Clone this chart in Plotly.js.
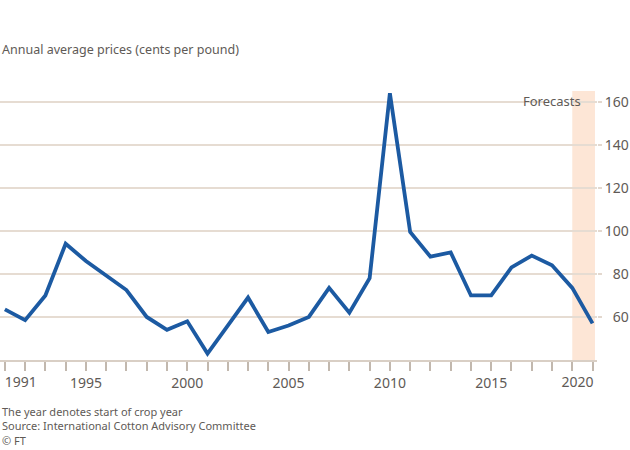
<!DOCTYPE html>
<html>
<head>
<meta charset="utf-8">
<script src="https://cdn.plot.ly/plotly-3.0.1.min.js"></script>
<style>
html,body{margin:0;padding:0;background:#ffffff;}
#chart{width:630px;height:450px;}
</style>
</head>
<body>
<div id="chart"></div>
<script>
// Crop year (start year) and annual average price, cents per pound
const years = [1991,1992,1993,1994,1995,1996,1997,1998,1999,2000,
               2001,2002,2003,2004,2005,2006,2007,2008,2009,2010,
               2011,2012,2013,2014,2015,2016,2017,2018,2019,2020];
const prices = [63.5,58.5,70,94,86,79,72.5,60,54,58,
                43,56,69,53,56,60,73.5,62,78,164,
                99.5,88,90,70,70,83,88.5,84,73.5,57];
const labelYears = [1991,1995,2000,2005,2010,2015,2020];
const yTicks = [60,80,100,120,140,160];
const forecastStart = 2019;
const forecastEnd = 2020;
const titleText = "Annual average prices (cents per pound)";
const notes = ["The year denotes start of crop year",
               "Source: International Cotton Advisory Committee",
               "© FT"];
const forecastLabel = "Forecasts";

const FS = "\u2007";
const firstYear = years[0];
const lastYear = years[years.length - 1];
const xTickText = years.map(function(y){
  if (labelYears.indexOf(y) < 0 || y === firstYear || y === lastYear) return "";
  return String(y);
});
const yTickText = yTicks.map(function(v){
  const s = String(v);
  return (s.length < 3 ? FS : "") + s;
});

const font = "'Noto Sans', 'Open Sans', Lato, sans-serif";
const grey = "#605a56";
const xRange = [1990.76, 2020.22];

const trace = {
  x: years, y: prices, type: "scatter", mode: "lines",
  line: {color: "#1c5aa2", width: 3.8},
  hoverinfo: "x+y"
};
// helper traces only register the overlay axes that carry the end labels
const helperFirst = {x: [firstYear], y: [prices[0]], xaxis: "x2", type: "scatter", mode: "lines",
  line: {width: 0}, hoverinfo: "skip", showlegend: false};
const helperLast = {x: [lastYear], y: [prices[prices.length-1]], xaxis: "x3", type: "scatter", mode: "lines",
  line: {width: 0}, hoverinfo: "skip", showlegend: false};

const endAxis = function(val, shift){
  return {
    overlaying: "x", anchor: "y", side: "bottom", range: xRange,
    tickmode: "array", tickvals: [val], ticktext: [String(val)],
    ticks: "outside", ticklen: 9, tickwidth: 2, tickcolor: "rgba(0,0,0,0)",
    ticklabelshift: shift,
    showline: false, showgrid: false, zeroline: false,
    tickfont: {size: 14, color: grey, family: font},
    fixedrange: true
  };
};

const layout = {
  width: 630, height: 450,
  paper_bgcolor: "#ffffff", plot_bgcolor: "#ffffff",
  margin: {l: 0, r: 33, t: 91, b: 90},
  showlegend: false,
  font: {family: font, color: grey, size: 14},
  xaxis: {
    range: xRange,
    tickmode: "array", tickvals: years, ticktext: xTickText,
    ticks: "outside", ticklen: 9, tickwidth: 2, tickcolor: "#c2b8ae",
    showline: true, linecolor: "#d9cfc5", linewidth: 2,
    showgrid: false, zeroline: false,
    tickfont: {size: 14, color: grey, family: font},
    fixedrange: true
  },
  xaxis2: endAxis(firstYear, 16),
  xaxis3: endAxis(lastYear, -15),
  yaxis: {
    side: "right",
    range: [40, 165],
    tickmode: "array", tickvals: yTicks, ticktext: yTickText,
    ticks: "outside", ticklen: 4, tickwidth: 2, tickcolor: "#e3d8ce",
    showgrid: true, gridcolor: "#e6dcd2", gridwidth: 2,
    showline: false, zeroline: false,
    tickfont: {size: 14, color: grey, family: font},
    fixedrange: true
  },
  shapes: [
    {type: "rect", xref: "x", yref: "paper", x0: forecastStart, x1: forecastEnd + 0.12,
     y0: 0, y1: 1.0, fillcolor: "#fde6d6", line: {width: 0}, layer: "between"},
    {type: "rect", xref: "x", yref: "y", x0: 2017.6, x1: forecastStart,
     y0: 158, y1: 162, fillcolor: "#ffffff", line: {width: 0}, layer: "between"}
  ],
  annotations: [
    {text: titleText, xref: "paper", yref: "paper", x: 0, y: 1, xanchor: "left", yanchor: "bottom",
     yshift: 31, showarrow: false, font: {size: 12.5, color: grey, family: font}, align: "left"},
    {text: forecastLabel, xref: "x", yref: "y", x: 2019.55, y: 160.5, xanchor: "right", yanchor: "middle",
     showarrow: false, font: {size: 13, color: grey, family: font}},
    {text: notes.join("<br>"), xref: "paper", yref: "paper", x: 0, y: 0, xanchor: "left", yanchor: "top",
     yshift: -42, showarrow: false, align: "left", font: {size: 11, color: grey, family: font}}
  ]
};

Plotly.newPlot("chart", [trace, helperFirst, helperLast], layout, {displayModeBar: false, staticPlot: true});
</script>
</body>
</html>
